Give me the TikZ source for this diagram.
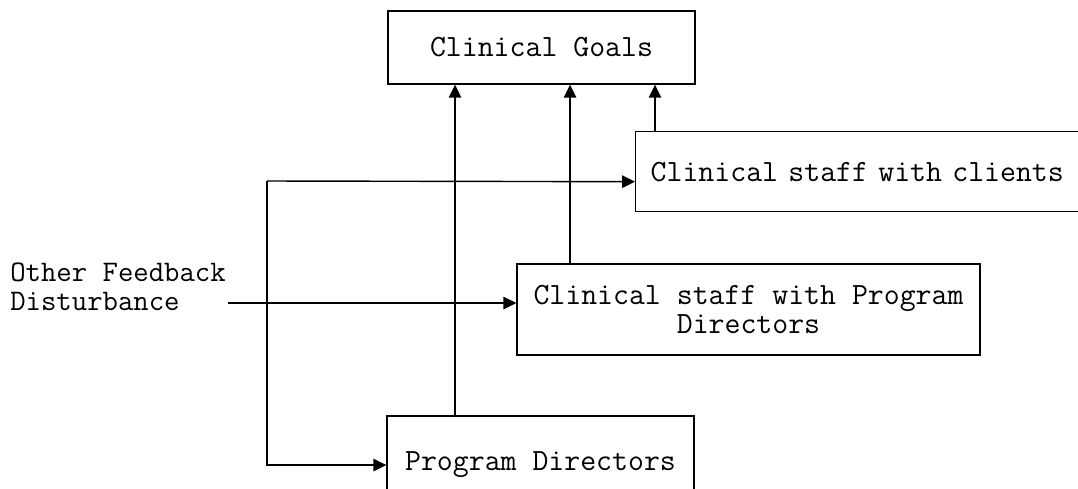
\documentclass[tikz,border=0pt]{standalone}
\usepackage{fontspec}
\usetikzlibrary{arrows.meta,positioning}
\tikzset{
  txt/.style = {font=\ttfamily\fontsize{17.6}{16.5}\selectfont},
  box/.style = {draw, line width=0.8pt, inner sep=0pt, txt},
  flow/.style = {line width=0.8pt, -{Triangle[length=2.6mm,width=2.5mm]}},
}

\begin{document}
\begin{tikzpicture}[x=0.02cm, y=-0.02cm]
    \useasboundingbox (0,0) rectangle (1078,488);
    \clip (0,0) rectangle (1078,488);
    % boxes
    \node (goals) [box, minimum width=6.14cm, minimum height=1.46cm]
      at (541.5,47.5) {Clinical Goals};
    \node (clients) [box, anchor=north west, minimum height=1.6cm,
      inner xsep=0.3cm, text width=8.9cm, align=left]
      at (635,131) {Clinical staff with clients};
    \node (staffpd) [box, minimum width=9.26cm, minimum height=1.82cm,
      align=center] at (748.5,309.5) {Clinical staff with Program\\Directors};
    \node (progdir) [box, minimum width=6.14cm, minimum height=1.96cm]
      at (540.5,465) {Program Directors};
    \node (dist) [anchor=west, align=left, inner sep=0pt,
      font=\ttfamily\fontsize{17}{16.5}\selectfont]
      at (10,287) {Other Feedback\\Disturbance};
    % upward connectors
    \coordinate (up1) at ([xshift=-1.71cm]progdir.north);
    \coordinate (up2) at ([xshift=-3.57cm]staffpd.north);
    \coordinate (up3) at ([xshift=0.4cm]clients.north west);
    \draw [flow] (up1) -- (up1 |- goals.south);
    \draw [flow] (up2) -- (up2 |- goals.south);
    \draw [flow] (up3) -- (up3 |- goals.south);
    % feedback loop
    \coordinate (loop) at (267,181);
    \draw [flow] (loop) -- ([yshift=-0.2cm]clients.west);
    \draw [flow] (loop) |- (progdir.west);
    % disturbance
    \coordinate (distin) at (228,303);
    \draw [flow] (distin) -- (distin -| staffpd.west);
  \end{tikzpicture}
\end{document}
